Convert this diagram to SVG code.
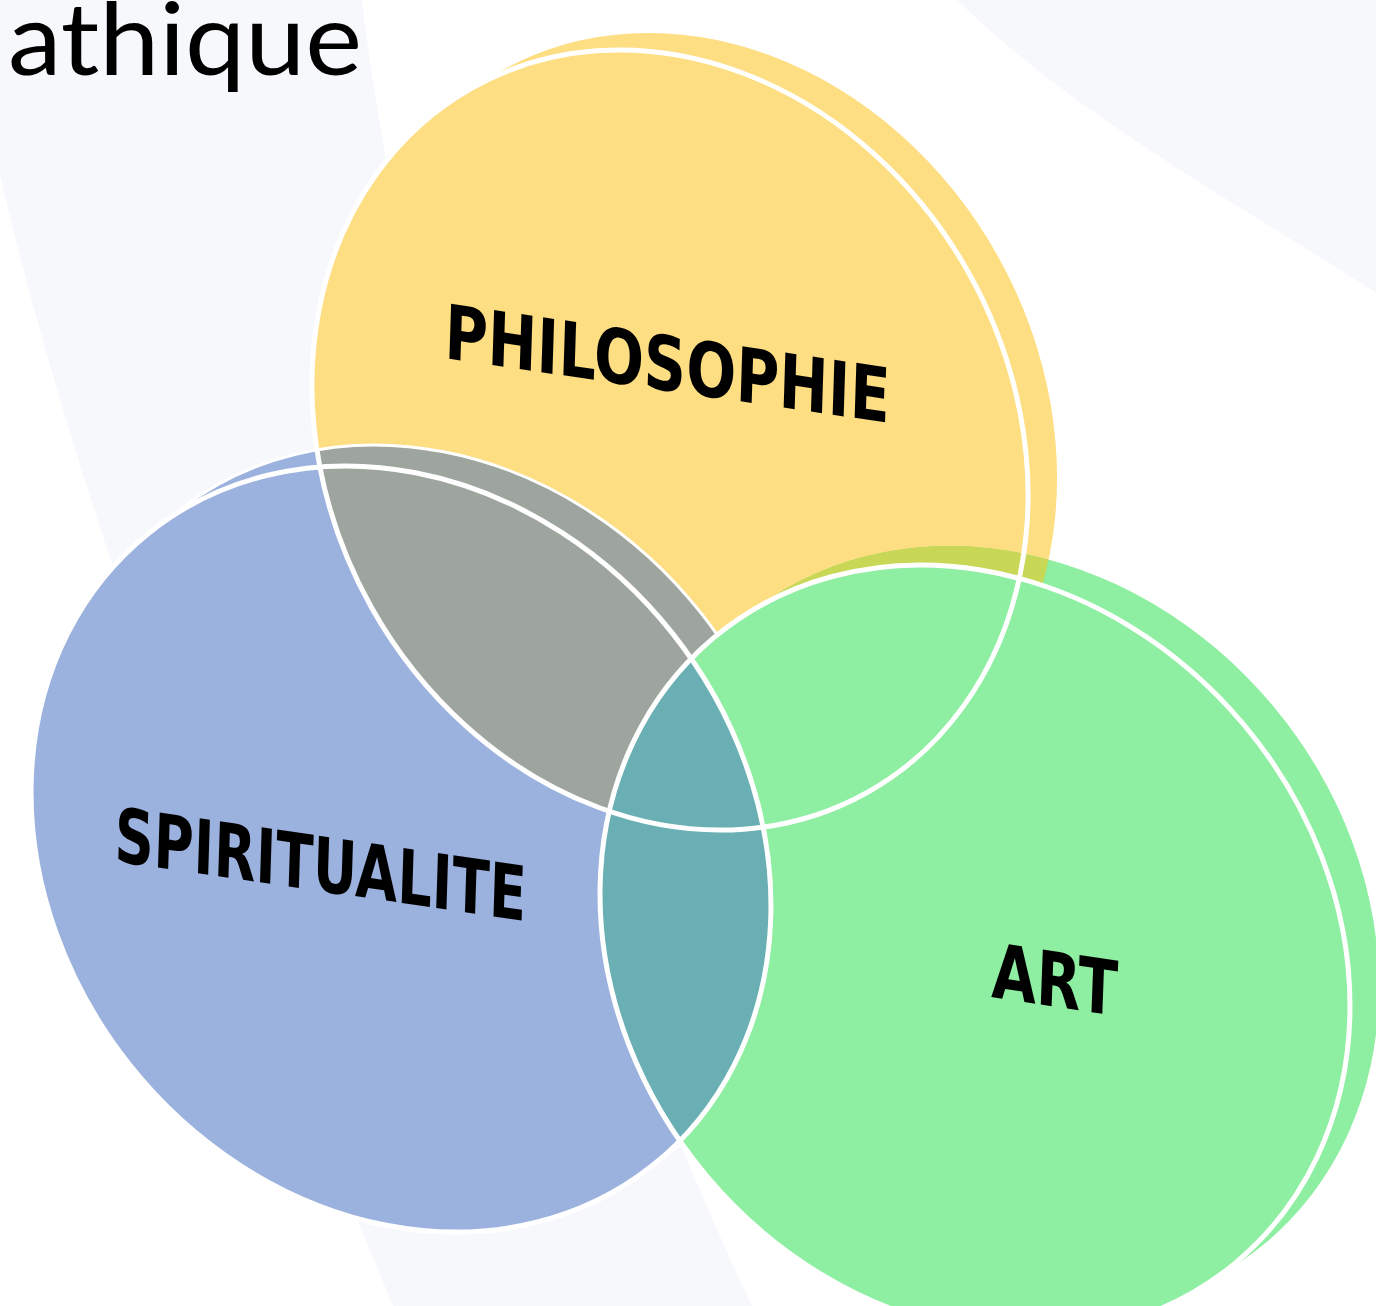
<svg xmlns="http://www.w3.org/2000/svg" xmlns:xlink="http://www.w3.org/1999/xlink" width="1376" height="1306" viewBox="0 0 1376 1306">
  <style>
    .yel{fill:#FEDE82}
    .blu{fill:#9CB2DE}
    .grn{fill:#8EEEA1}
    .grey{fill:#9EA59E}
    .teal{fill:#6AAFB4}
    .olive{fill:#C9D757}
    .band{fill:#F6F8FC}
    .ring{fill:none;stroke:#FFFFFF;stroke-width:5}
    .lbl{font-family:"DejaVu Sans","Liberation Sans",sans-serif;font-weight:bold;font-size:75px;fill:#000000}
    .title{font-family:Lato,"Open Sans","DejaVu Sans",sans-serif;font-weight:normal;font-size:100px;fill:#000000}
  </style>
  <defs>
    <ellipse id="yF" cx="670" cy="440" rx="403.9" ry="342.3" transform="rotate(60.7 670 440)"/>
    <ellipse id="yB" cx="699" cy="423" rx="403.9" ry="342.3" transform="rotate(60.7 699 423)"/>
    <ellipse id="bF" cx="401" cy="849" rx="404.2" ry="346.7" transform="rotate(51.6 401 849)"/>
    <ellipse id="bB" cx="429" cy="828" rx="404.2" ry="346.7" transform="rotate(51.6 429 828)"/>
    <ellipse id="gF" cx="975" cy="950" rx="407.1" ry="350.8" transform="rotate(50.1 975 950)"/>
    <ellipse id="gB" cx="1004" cy="931" rx="407.1" ry="350.8" transform="rotate(50.1 1004 931)"/>
    <clipPath id="clipBlueBack"><use xlink:href="#bB"/></clipPath>
    <clipPath id="clipBlueFront"><use xlink:href="#bF"/></clipPath>
    <clipPath id="clipGreenBack"><use xlink:href="#gB"/></clipPath>
  </defs>

  <g id="background">
    <rect x="0" y="0" width="1376" height="1306" fill="#FFFFFF"/>
    <path class="band" d="M0,0 L362,0 C400,330 560,900 752,1306 L393,1306 C250,960 80,520 0,175 Z"/>
    <path class="band" d="M957,0 L1376,0 L1376,293 C1250,210 1080,120 957,0 Z"/>
  </g>

  <g id="title">
    <text class="title" x="8" y="75" textLength="354" lengthAdjust="spacingAndGlyphs">athique</text>
  </g>

  <g id="node-philosophie">
    <use xlink:href="#yB" class="yel"/>
    <use xlink:href="#yF" class="yel"/>
    <text class="lbl" transform="translate(444 358) rotate(8.3) skewX(6.5)" x="0" y="0" textLength="450" lengthAdjust="spacingAndGlyphs">PHILOSOPHIE</text>
  </g>

  <g id="node-spiritualite-back">
    <use xlink:href="#bB" class="blu"/>
    <g clip-path="url(#clipBlueBack)">
      <use xlink:href="#yB" class="grey"/>
      <use xlink:href="#yF" class="grey"/>
    </g>
    <use xlink:href="#bB" class="ring" style="stroke-width:3"/>
  </g>

  <g id="node-art">
    <use xlink:href="#gB" class="grn"/>
    <g clip-path="url(#clipGreenBack)">
      <use xlink:href="#yB" class="olive"/>
      <use xlink:href="#yF" class="olive"/>
    </g>
    <use xlink:href="#gF" class="grn"/>
    <text class="lbl" transform="translate(991 997) rotate(8.6) skewX(6.5)" x="0" y="0" textLength="127" lengthAdjust="spacingAndGlyphs">ART</text>
  </g>

  <g id="node-spiritualite">
    <use xlink:href="#bF" class="blu"/>
    <g clip-path="url(#clipBlueFront)">
      <use xlink:href="#yB" class="grey"/>
      <use xlink:href="#yF" class="grey"/>
      <use xlink:href="#gF" class="teal"/>
    </g>
    <text class="lbl" transform="translate(114 861) rotate(8.3) skewX(6.5)" x="0" y="0" textLength="416" lengthAdjust="spacingAndGlyphs">SPIRITUALITE</text>
  </g>

  <g id="connectors">
    <use xlink:href="#yF" class="ring"/>
    <use xlink:href="#gF" class="ring"/>
    <use xlink:href="#bF" class="ring"/>
  </g>
</svg>
